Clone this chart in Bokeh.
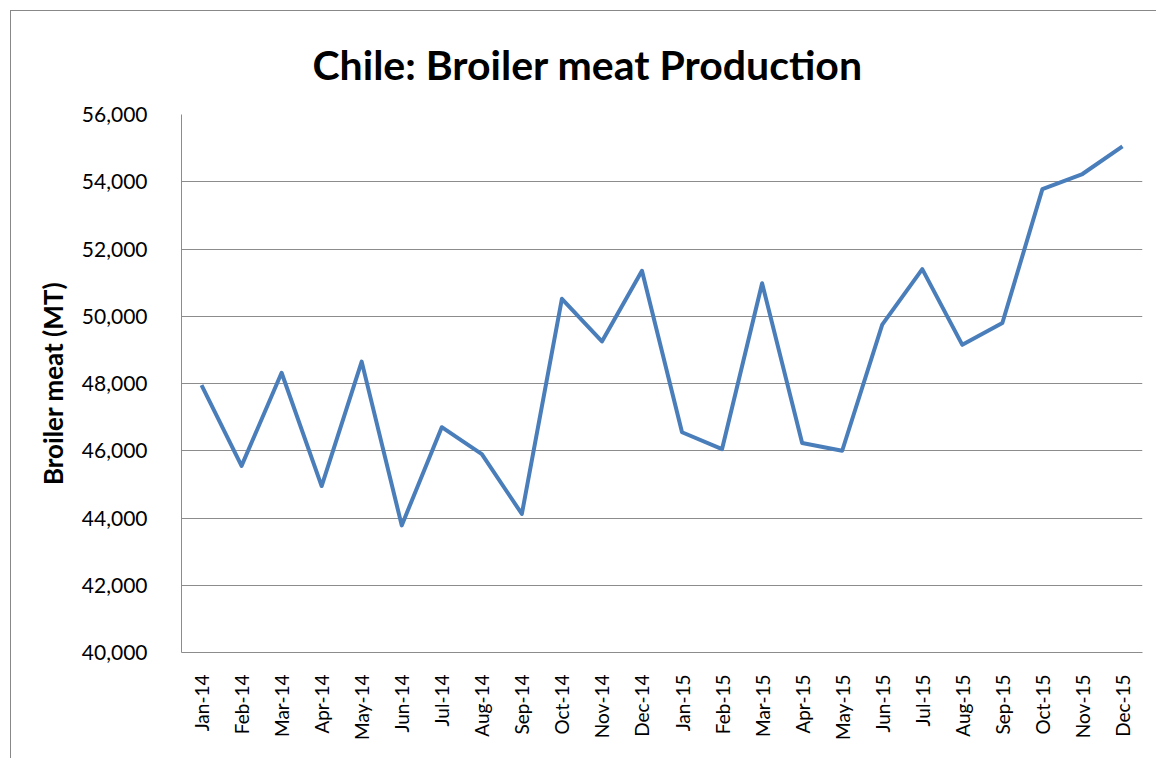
from bokeh.plotting import figure
from bokeh.models import FactorRange, Range1d, FixedTicker, NumeralTickFormatter
from bokeh.embed import file_html
from bokeh.resources import INLINE
import math

months = ["Jan-14", "Feb-14", "Mar-14", "Apr-14", "May-14", "Jun-14", "Jul-14", "Aug-14",
          "Sep-14", "Oct-14", "Nov-14", "Dec-14", "Jan-15", "Feb-15", "Mar-15", "Apr-15",
          "May-15", "Jun-15", "Jul-15", "Aug-15", "Sep-15", "Oct-15", "Nov-15", "Dec-15"]
production = [47950, 45550, 48320, 44950, 48650, 43780, 46700, 45900,
              44120, 50520, 49250, 51350, 46550, 46050, 50980, 46230,
              46000, 49750, 51400, 49150, 49800, 53780, 54230, 55050]
y_ticks = [40000, 42000, 44000, 46000, 48000, 50000, 52000, 54000, 56000]
title_text = "Chile: Broiler meat Production"
y_label_text = "Broiler meat (MT)"

p = figure(x_range=FactorRange(factors=months, range_padding=0),
           y_range=Range1d(40000, 56000),
           width=1146, height=748, output_backend="svg", toolbar_location=None,
           title=title_text,
           min_border_left=170, min_border_right=15, min_border_top=103, min_border_bottom=107,
           margin=(10, 0, 0, 10))
p.styles = {"border-left": "1px solid #888888", "border-top": "1px solid #888888"}

p.line(x=months, y=production, line_color="#4a7ebb", line_width=4, line_join="round")

p.title.text_font = "Lato"
p.title.text_font_size = "41px"
p.title.text_font_style = "bold"
p.title.text_color = "#000000"
p.title.align = "left"
p.title.offset = 131
p.title.standoff = 52

p.outline_line_color = None
p.xgrid.grid_line_color = None
p.ygrid.grid_line_color = "#8c8c8c"
p.ygrid.grid_line_width = 1

p.yaxis.ticker = FixedTicker(ticks=y_ticks)
p.yaxis.formatter = NumeralTickFormatter(format="0,0")
for ax in (p.xaxis[0], p.yaxis[0]):
    ax.axis_line_color = "#8c8c8c"
    ax.major_tick_line_color = None
    ax.minor_tick_line_color = None
    ax.major_label_text_font = "Lato"
    ax.major_label_text_color = "#000000"

p.xaxis.major_label_text_font_size = "19px"
p.yaxis.major_label_text_font_size = "21px"
p.xaxis.major_label_orientation = math.pi / 2
p.xaxis.major_label_standoff = 16
p.yaxis.major_label_standoff = 28
p.yaxis.axis_label = y_label_text
p.yaxis.axis_label_text_font = "Lato"
p.yaxis.axis_label_text_font_size = "26px"
p.yaxis.axis_label_text_font_style = "bold"
p.yaxis.axis_label_text_color = "#000000"
p.yaxis.axis_label_standoff = 10

open("out.html", "w").write(file_html(p, INLINE))
